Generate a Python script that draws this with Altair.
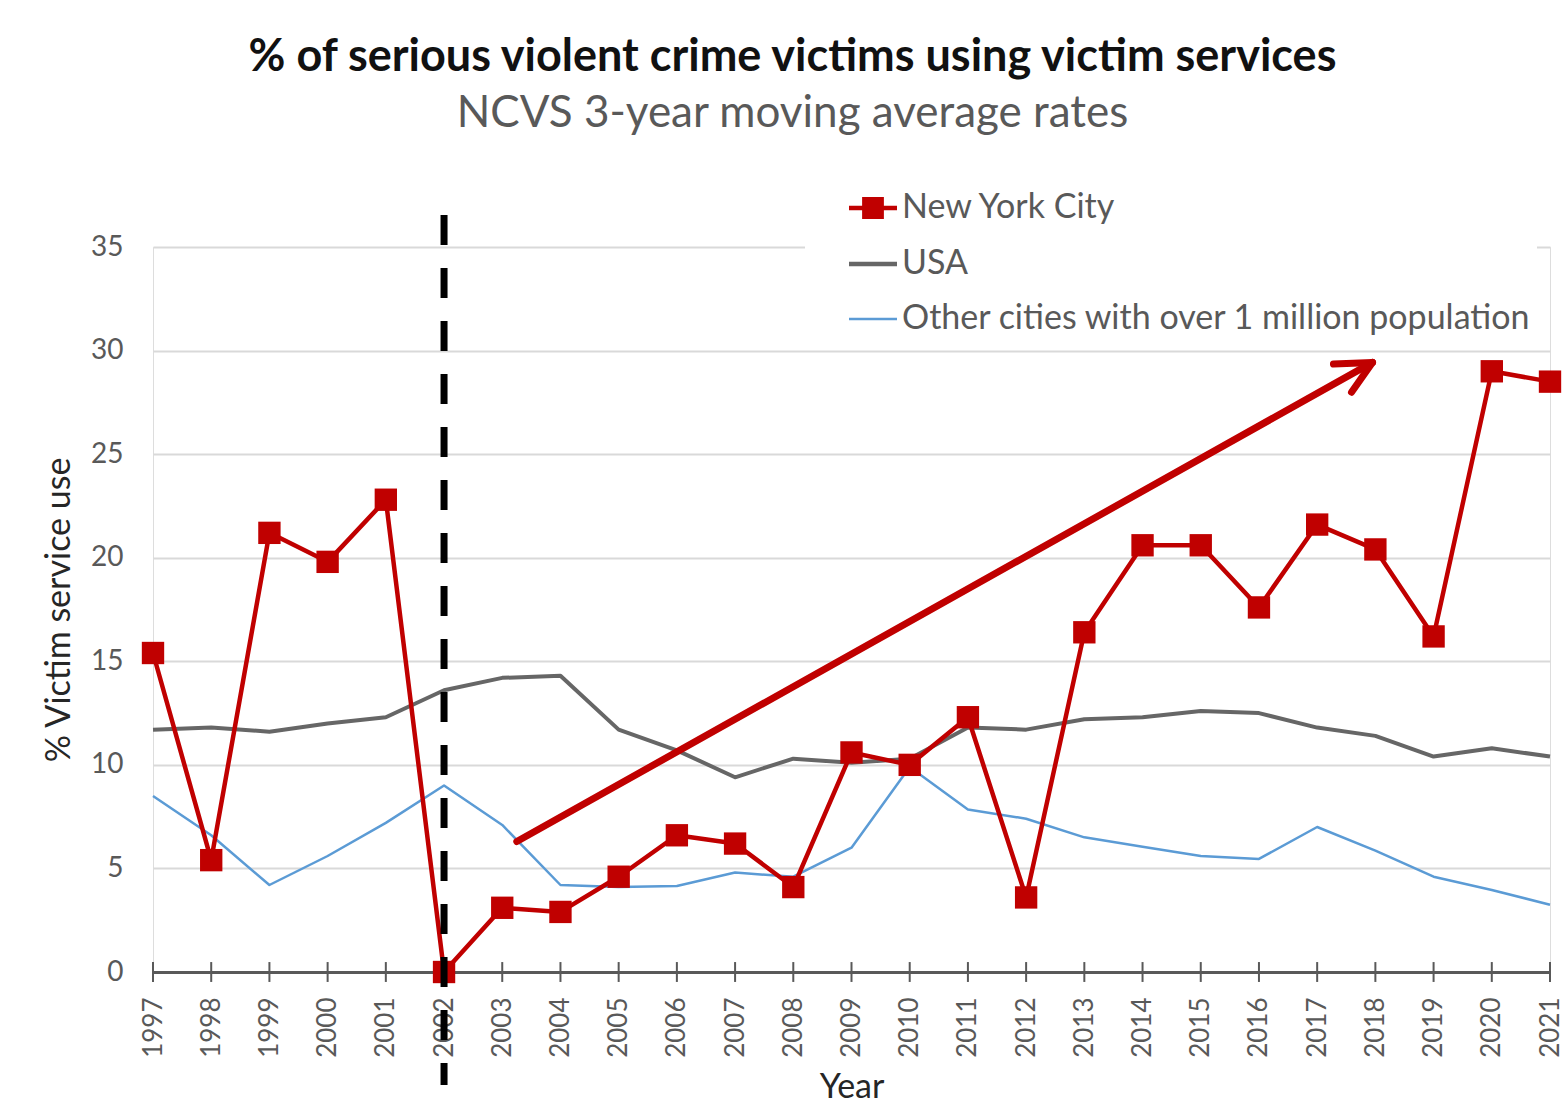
import altair as alt
import pandas as pd

YEARS = list(range(1997, 2022))
SERIES = ["New York City", "USA", "Other cities with over 1 million population"]
COLORS = ["#C00000", "#666666", "#5B9BD5"]

NYC = [15.4, 5.4, 21.2, 19.8, 22.8, 0.0, 3.1, 2.9, 4.6, 6.6, 6.2, 4.1, 10.6,
       10.0, 12.3, 3.6, 16.4, 20.6, 20.6, 17.6, 21.6, 20.4, 16.2, 29.0, 28.5]
USA = [11.7, 11.8, 11.6, 12.0, 12.3, 13.6, 14.2, 14.3, 11.7, 10.7, 9.4, 10.3, 10.1,
       10.3, 11.8, 11.7, 12.2, 12.3, 12.6, 12.5, 11.8, 11.4, 10.4, 10.8, 10.4]
OTHER = [8.5, 6.6, 4.2, 5.6, 7.2, 9.0, 7.1, 4.2, 4.1, 4.15, 4.8, 4.6, 6.0,
         9.9, 7.85, 7.4, 6.5, 6.05, 5.6, 5.46, 7.0, 5.86, 4.6, 3.96, 3.25]

# annotation: trend arrow (shaft + two head arms) in data units
ARROW_X = [2003.25, 2017.95, 2017.95]
ARROW_Y = [6.3, 29.43, 29.43]
ARROW_X2 = [2017.95, 2017.28, 2017.59]
ARROW_Y2 = [29.43, 29.35, 27.99]

# annotation: 2002 reference line
REF_YEAR = 2002
REF_TOP = 36.55
REF_BOTTOM = -5.46

FONT = "Lato"

def series_df(name, vals):
    return pd.DataFrame({"year": YEARS, "value": vals, "series": name})

df_nyc = series_df(SERIES[0], NYC)
df_usa = series_df(SERIES[1], USA)
df_oth = series_df(SERIES[2], OTHER)
df_arrow = pd.DataFrame({"x": ARROW_X, "y": ARROW_Y, "x2": ARROW_X2, "y2": ARROW_Y2})
df_years = pd.DataFrame({"year": YEARS})

NYC_PATH = ("M-1,0L1,0M-0.36,-0.36L0.36,-0.36L0.36,0.36L-0.36,0.36Z"
            "M-0.36,-0.18L0.36,-0.18M-0.36,0.18L0.36,0.18")
LINE_PATH = "M-1,0L1,0"
NBSP = "\u00a0\u00a0\u00a0"

legend = alt.Legend(
    title=None,
    orient="none",
    legendX=652,
    legendY=-61,
    padding=5,
    fillColor="white",
    labelFont=FONT,
    labelFontSize=34,
    labelColor="#595959",
    labelOffset=12,
    labelLimit=900,
    labelExpr=f"datum.label + '{NBSP}'",
    symbolSize=2304,
    symbolOffset=46,
    rowPadding=21,
    symbolType=alt.ExprRef(expr=f"datum.value === 'New York City' ? '{NYC_PATH}' : '{LINE_PATH}'"),
    symbolStrokeWidth=alt.ExprRef(expr="datum.value === 'Other cities with over 1 million population' ? 2.5 : 4.5"),
)

x_scale = alt.Scale(domain=[1997, 2021], nice=False, zero=False)
y_scale = alt.Scale(domain=[0, 35], nice=False)
color_scale = alt.Scale(domain=SERIES, range=COLORS)

x_axis = alt.Axis(
    values=YEARS, format="d", labelAngle=270, grid=False, ticks=False,
    domain=True, domainColor="#595959", domainWidth=3,
    labelFont=FONT, labelFontSize=26, labelColor="#595959", labelPadding=25,
    title="Year", titleFont=FONT, titleFontSize=34, titleColor="#262626",
    titleFontWeight="normal", titlePadding=13,
)
y_axis = alt.Axis(
    values=[0, 5, 10, 15, 20, 25, 30, 35], grid=True, gridColor="#d9d9d9", gridWidth=2,
    domain=False, ticks=False,
    labelFont=FONT, labelFontSize=28, labelColor="#595959", labelPadding=30,
    title="% Victim service use", titleFont=FONT, titleFontSize=34, titleColor="#262626",
    titleFontWeight="normal", titlePadding=14,
)

def line_layer(df, width):
    return alt.Chart(df).mark_line(strokeJoin="round").encode(
        x=alt.X("year:Q", scale=x_scale, axis=x_axis),
        y=alt.Y("value:Q", scale=y_scale, axis=y_axis),
        color=alt.Color("series:N", scale=color_scale, legend=legend),
        strokeWidth=alt.value(width),
    )

blue = line_layer(df_oth, 2.5)
gray = line_layer(df_usa, 4)
red = line_layer(df_nyc, 4.5)

points = alt.Chart(df_nyc).mark_point(shape="square", filled=True, size=500, opacity=1,
                                      color="#C00000").encode(
    x=alt.X("year:Q", scale=x_scale),
    y=alt.Y("value:Q", scale=y_scale),
)

ticks = alt.Chart(df_years).mark_rule(color="#595959", strokeWidth=2).encode(
    x=alt.X("year:Q", scale=x_scale),
    y=alt.datum(-0.48),
    y2=alt.datum(0.48),
)

arrow = alt.Chart(df_arrow).mark_rule(color="#C00000", strokeWidth=7, strokeCap="round").encode(
    x=alt.X("x:Q", scale=x_scale),
    y=alt.Y("y:Q", scale=y_scale),
    x2="x2:Q",
    y2="y2:Q",
)

refline = alt.Chart(df_years.head(1)).mark_rule(
    color="black", strokeWidth=7, strokeDash=[30, 23], clip=False
).encode(
    x=alt.datum(REF_YEAR),
    y=alt.datum(REF_TOP),
    y2=alt.datum(REF_BOTTOM),
)

chart = alt.layer(blue, gray, red, ticks, points, arrow, refline).properties(
    width=1397,
    height=725,
    padding={"left": 153, "top": 247, "right": 12, "bottom": 146},
    autosize=alt.AutoSizeParams(type="none"),
    title=alt.TitleParams(
        text="% of serious violent crime victims using victim services",
        subtitle="NCVS 3-year moving average rates",
        font=FONT, fontSize=45, fontWeight="bold", color="#111111",
        subtitleFont=FONT, subtitleFontSize=44, subtitleColor="#595959",
        subtitlePadding=12, anchor="middle", frame="group", dx=-59, offset=50,
    ),
).configure_view(stroke=None).configure(background="white")

chart.save("out.html", embed_options={"renderer": "svg", "actions": False})
